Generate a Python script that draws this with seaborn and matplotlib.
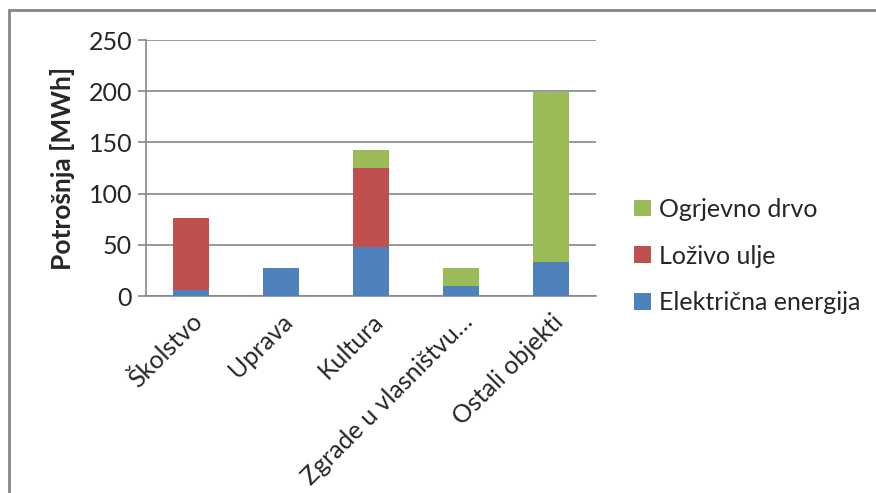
import numpy as np
import pandas as pd
import matplotlib.pyplot as plt
import seaborn as sns
from matplotlib.patches import Patch
from matplotlib.lines import Line2D

categories = ['Školstvo', 'Uprava', 'Kultura', 'Zgrade u vlasništvu…', 'Ostali objekti']
elektricna = [5.5, 27.6, 47.7, 10.0, 33.4]
lozivo = [71.1, 0, 77.3, 0, 0]
drvo = [0, 0, 17.2, 17.6, 166.3]

series_names = ['Električna energija', 'Loživo ulje', 'Ogrjevno drvo']
colors = ['#4F81BD', '#C0504D', '#9BBB59']

sns.set_style('white')
plt.rcParams['font.family'] = ['Lato', 'DejaVu Sans']

fig = plt.figure(figsize=(8.76, 4.93), dpi=100)
ax = fig.add_axes([146/876, 1-296/493, 450/876, 256/493])

bottom = np.zeros(len(categories))
for name, vals, c in zip(series_names, [elektricna, lozivo, drvo], colors):
    sns.barplot(x=categories, y=vals, bottom=bottom, color=c, width=0.4, saturation=1,
                errorbar=None, ax=ax, zorder=3, linewidth=0)
    bottom = bottom + np.array(vals)

grey = '#868686'
ax.set_ylim(0, 250)
ax.set_xlim(-0.5, 4.5)
ax.set_yticks(range(0, 251, 50))
ax.yaxis.grid(True, color=grey, linewidth=1.2, zorder=0)
ax.set_axisbelow(True)
for s in ['top', 'right']:
    ax.spines[s].set_visible(False)
ax.spines['left'].set_color(grey)
ax.spines['bottom'].set_color(grey)
ax.spines['left'].set_linewidth(1.2)
ax.spines['bottom'].set_linewidth(1.2)

ax.set_xticks(np.arange(len(categories)))
ax.set_xticklabels(categories, rotation=45, ha='right', rotation_mode='anchor', fontsize=18)
ax.tick_params(axis='x', length=0, pad=10)
# category boundary ticks
ax.set_xticks(np.arange(-0.5, len(categories)), minor=True)
ax.tick_params(axis='x', which='minor', length=6, color=grey, width=1.2)
ax.tick_params(axis='y', length=6, color=grey, width=1.2, labelsize=18, pad=4, left=True)

ax.set_ylabel('Potrošnja [MWh]', fontsize=19, fontweight='bold', labelpad=10)
ax.set_xlabel('')

handles = [Patch(facecolor=c, edgecolor='none') for c in colors][::-1]
ax.legend(handles, series_names[::-1], loc='center left', bbox_to_anchor=(1.085, 0.156),
          frameon=False, fontsize=18, handlelength=0.65, handleheight=0.65,
          handletextpad=0.35, labelspacing=0.95, borderaxespad=0, borderpad=0)

fig.add_artist(Line2D([8.5/876, 8.5/876], [0, 1-9.5/493], transform=fig.transFigure,
                      color=grey, linewidth=2))
fig.add_artist(Line2D([8.5/876, 1], [1-9.5/493, 1-9.5/493], transform=fig.transFigure,
                      color=grey, linewidth=2))

fig.savefig('out.png', dpi=100)
